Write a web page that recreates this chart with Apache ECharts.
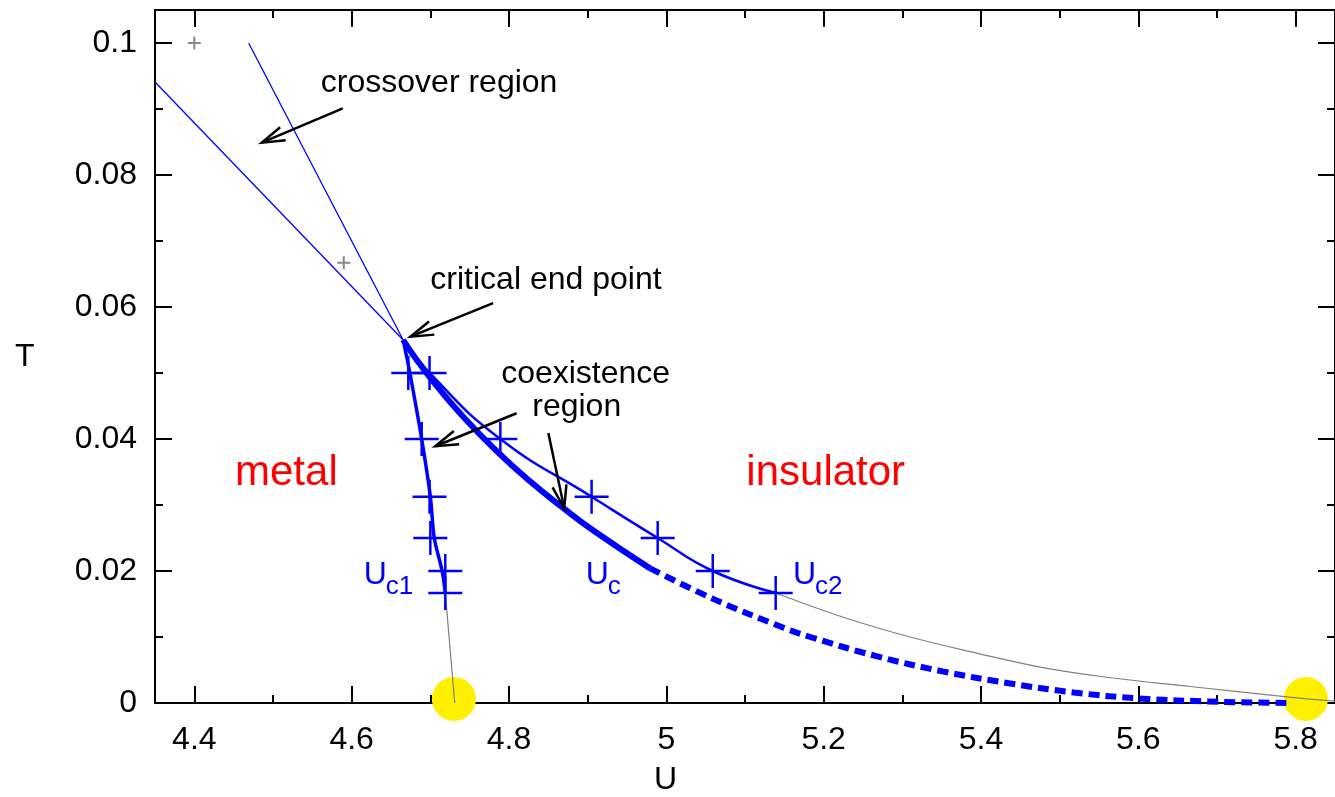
<!DOCTYPE html>
<html>
<head>
<meta charset="utf-8">
<script src="https://cdn.jsdelivr.net/npm/echarts@6/dist/echarts.min.js"></script>
<style>
  html, body { margin: 0; padding: 0; background: #fff; }
  #chart { width: 1335px; height: 797px; }
</style>
</head>
<body>
<div id="chart"></div>
<script>
// axis ranges and ticks
const xRange = [4.35, 5.85]
const yRange = [0, 0.105]
const xMajor = [4.4, 4.6, 4.8, 5, 5.2, 5.4, 5.6, 5.8]
const xMinor = [4.5, 4.7, 4.9, 5.1, 5.3, 5.5, 5.7]
const yMajor = [0, 0.02, 0.04, 0.06, 0.08, 0.1]
const yMinor = [0.01, 0.03, 0.05, 0.07, 0.09]

// critical end point
const cep = [4.6655, 0.055]

// crossover lines (thin blue)
const crossoverA = [[4.35, 0.0941], cep]
const crossoverB = [[4.469, 0.1], cep]
// gray crosses (crossover points)
const grayPoints = [[4.4, 0.1], [4.59, 0.0667]]

// Uc1 line and its data points
const uc1Line = [cep, [4.674, 0.05], [4.689, 0.04], [4.700, 0.0313], [4.705, 0.025], [4.715, 0.02], [4.719, 0.0167]]
const uc1Tail = [[4.719, 0.0167], [4.731, 0]]
const uc1Points = [[4.672, 0.05], [4.689, 0.04], [4.699, 0.03125], [4.700, 0.025], [4.719, 0.02], [4.719, 0.01667]]

// Uc2 line and its data points
const uc2Line = [cep, [4.699, 0.05], [4.789, 0.04], [4.905, 0.03125], [4.989, 0.025], [5.059, 0.02], [5.139, 0.01667]]
const uc2Tail = [[5.139, 0.01667], [5.225, 0.013], [5.31, 0.01], [5.393, 0.0076], [5.477, 0.0054], [5.56, 0.0039], [5.666, 0.0025], [5.792, 0.0009], [5.85, 0.0003]]
const uc2Points = [[4.699, 0.05], [4.789, 0.04], [4.905, 0.03125], [4.989, 0.025], [5.059, 0.02], [5.139, 0.01667]]

// Uc (first order line), solid part then dashed extrapolation
const ucSolid = [cep, [4.6832, 0.0519], [4.7084, 0.048], [4.7424, 0.0433], [4.784, 0.0382], [4.8256, 0.0337], [4.8684, 0.0296], [4.91, 0.0259], [4.9793, 0.0204]]
const ucDashed = [[4.9793, 0.0204], [5.061, 0.0157], [5.149, 0.0114], [5.183, 0.01], [5.267, 0.0071], [5.351, 0.0048], [5.435, 0.003], [5.518, 0.0016], [5.599, 0.0007], [5.70, 0.0002], [5.79, 0]]

// T = 0 end points (yellow)
const endPoints = [[4.73, 0.0006], [5.813, 0.0006]]

// annotations
const noteText = ['crossover region', 'critical end point', 'coexistence', 'region']
const noteX = [4.7112, 4.847, 4.8974, 4.8861]
const noteY = [0.0939, 0.0641, 0.0498, 0.0448]
const regionText = ['metal', 'insulator']
const regionX = [4.517, 5.2026]
const regionY = [0.0348, 0.0348]
const curveSub = ['c1', 'c', 'c2']
const curveX = [4.6154, 4.8976, 5.161]
const curveY = [0.0194, 0.0194, 0.0194]
// arrows: [x0, y0, x1, y1], head at (x1, y1)
const arrows = [
  [4.5887, 0.0901, 4.4858, 0.0849],
  [4.7798, 0.0606, 4.6747, 0.0555],
  [4.8097, 0.0439, 4.7063, 0.0389],
  [4.85, 0.0409, 4.8702, 0.0295]
]

const FONT = '"Liberation Sans", Arial, sans-serif'
const BLUE = '#0000ff'

function axis(dim, position, values, len, showLabel) {
  const range = dim === 'x' ? xRange : yRange
  return {
    type: 'value',
    position,
    min: range[0],
    max: range[1],
    axisLine: { show: true, onZero: false, lineStyle: { color: '#000', width: 2 } },
    axisTick: { show: true, inside: true, length: len, customValues: values, lineStyle: { color: '#000', width: 2 } },
    axisLabel: {
      show: showLabel,
      customValues: values,
      margin: dim === 'x' ? 21 : 18,
      color: '#000',
      fontSize: 32,
      fontFamily: FONT
    },
    splitLine: { show: false }
  }
}

function line(data, width, color, extra) {
  return Object.assign({
    type: 'line',
    data,
    symbol: 'none',
    lineStyle: { color, width },
    silent: true,
    z: 3
  }, extra || {})
}

function crosses(points, size, color, width) {
  return {
    type: 'custom',
    data: points,
    z: 4,
    renderItem(params, api) {
      const p = api.coord([api.value(0), api.value(1)])
      const h = size / 2
      const style = { stroke: color, lineWidth: width }
      return {
        type: 'group',
        children: [
          { type: 'line', shape: { x1: p[0] - h, y1: p[1], x2: p[0] + h, y2: p[1] }, style },
          { type: 'line', shape: { x1: p[0], y1: p[1] - h, x2: p[0], y2: p[1] + h }, style }
        ]
      }
    }
  }
}

// text labels placed at data positions
function texts(xs, ys, strs, size, color) {
  return {
    type: 'custom',
    data: xs.map((x, i) => [x, ys[i], i]),
    z: 5,
    renderItem(params, api) {
      const p = api.coord([api.value(0), api.value(1)])
      return {
        type: 'text',
        x: p[0],
        y: p[1],
        style: {
          text: strs[api.value(2)],
          fill: color,
          fontSize: size,
          fontFamily: FONT,
          align: 'center',
          verticalAlign: 'middle'
        }
      }
    }
  }
}

const chart = echarts.init(document.getElementById('chart'))

const option = {
  animation: false,
  backgroundColor: '#fff',
  grid: { left: 155, top: 10, right: -10, bottom: 94 },
  xAxis: [
    axis('x', 'bottom', xMajor, 17, true),
    axis('x', 'bottom', xMinor, 8, false),
    axis('x', 'top', xMajor, 17, false),
    axis('x', 'top', xMinor, 8, false)
  ],
  yAxis: [
    axis('y', 'left', yMajor, 17, true),
    axis('y', 'left', yMinor, 8, false),
    axis('y', 'right', yMajor, 17, false),
    axis('y', 'right', yMinor, 8, false)
  ],
  graphic: [
    { type: 'text', left: 15, top: 341, style: { text: 'T', fontSize: 32, fontFamily: FONT, fill: '#000' } },
    { type: 'text', left: 654, top: 764, style: { text: 'U', fontSize: 32, fontFamily: FONT, fill: '#000' } }
  ],
  series: [
    {
      type: 'scatter',
      data: endPoints,
      symbolSize: 44,
      itemStyle: { color: '#fff000', opacity: 1 },
      silent: true,
      z: 2
    },
    line(crossoverA, 1.3, BLUE),
    line(crossoverB, 1.3, BLUE),
    line(uc1Tail, 1.2, '#808080'),
    line(uc2Tail, 1.2, '#808080', { smooth: 0.4 }),
    line(uc1Line, 3.5, BLUE, { smooth: 0.3 }),
    line(uc2Line, 2.5, BLUE, { smooth: true }),
    line(ucSolid, 6, BLUE, { smooth: true }),
    line(ucDashed, 6, BLUE, { smooth: 0.4, lineStyle: { color: BLUE, width: 6, type: [11, 6] } }),
    crosses(uc1Points, 34, BLUE, 2.5),
    crosses(uc2Points, 34, BLUE, 2.5),
    crosses(grayPoints, 13, '#888', 2),
    // arrows
    {
      type: 'custom',
      data: arrows,
      z: 5,
      renderItem(params, api) {
        const a = api.coord([api.value(0), api.value(1)])
        const b = api.coord([api.value(2), api.value(3)])
        const ang = Math.atan2(b[1] - a[1], b[0] - a[0])
        const hl = 24, hw = 0.3
        const h1 = [b[0] - hl * Math.cos(ang - hw), b[1] - hl * Math.sin(ang - hw)]
        const h2 = [b[0] - hl * Math.cos(ang + hw), b[1] - hl * Math.sin(ang + hw)]
        const style = { stroke: '#000', lineWidth: 2.5, fill: null }
        return {
          type: 'group',
          children: [
            { type: 'line', shape: { x1: a[0], y1: a[1], x2: b[0], y2: b[1] }, style },
            { type: 'polyline', shape: { points: [h1, b, h2] }, style }
          ]
        }
      }
    },
    texts(noteX, noteY, noteText, 32, '#000'),
    texts(regionX, regionY, regionText, 42, '#ff0000'),
    // curve names U_c1, U_c, U_c2
    {
      type: 'custom',
      data: curveX.map((x, i) => [x, curveY[i], i]),
      z: 5,
      renderItem(params, api) {
        const p = api.coord([api.value(0), api.value(1)])
        const base = { fill: BLUE, fontFamily: FONT, align: 'left', verticalAlign: 'middle' }
        return {
          type: 'group',
          children: [
            { type: 'text', x: p[0], y: p[1], style: Object.assign({ text: 'U', fontSize: 32 }, base) },
            { type: 'text', x: p[0] + 22, y: p[1] + 12, style: Object.assign({ text: curveSub[api.value(2)], fontSize: 26 }, base) }
          ]
        }
      }
    }
  ]
}

chart.setOption(option)
window.addEventListener('resize', () => chart.resize())
</script>
</body>
</html>
